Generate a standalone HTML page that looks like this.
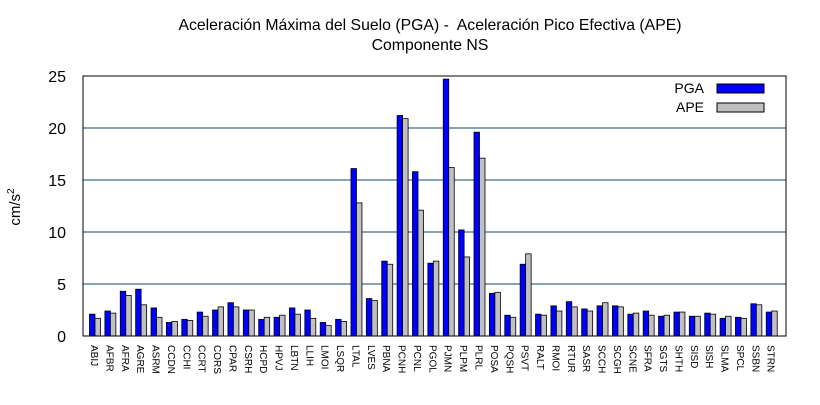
<!DOCTYPE html>
<html><head><meta charset="utf-8"><style>
body{margin:0;background:#fff;font-family:"Liberation Sans",sans-serif}
</style></head><body>
<svg width="820" height="400" xmlns="http://www.w3.org/2000/svg" font-family="Liberation Sans, sans-serif">
<rect width="820" height="400" fill="#fff"/>
<text x="430" y="30" font-size="15.8" text-anchor="middle" xml:space="preserve">Aceleración Máxima del Suelo (PGA) -&#160; Aceleración Pico Efectiva (APE)</text>
<text x="430" y="50" font-size="15.8" text-anchor="middle">Componente NS</text>
<text transform="translate(20,207) rotate(-90)" font-size="15" text-anchor="middle">cm/s<tspan font-size="10" dy="-6">2</tspan></text>
<g id="grid"></g>
<g id="bars"></g>
<g id="xlabels"></g>
<rect x="83" y="76" width="703" height="260" fill="none" stroke="#000" stroke-width="1"/>
<g>
<text x="704" y="93" font-size="14" text-anchor="end">PGA</text>
<rect x="717" y="84" width="47" height="9" fill="#0000ff" stroke="#000"/>
<text x="704" y="112" font-size="14" text-anchor="end">APE</text>
<rect x="717" y="103" width="47" height="9" fill="#c0c0c0" stroke="#000"/>
</g>
</svg>
<script>
const categories=["ABIJ","AFBR","AFRA","AGRE","ASRM","CCDN","CCHI","CCRT","CORS","CPAR","CSRH","HCPD","HPVJ","LBTN","LLIH","LMOI","LSQR","LTAL","LVES","PBNA","PCNH","PCNL","PGOL","PJMN","PLPM","PLRL","POSA","PQSH","PSVT","RALT","RMOI","RTUR","SASR","SCCH","SCGH","SCNE","SFRA","SGTS","SHTH","SISD","SISH","SLMA","SPCL","SSBN","STRN"];
const pga=[2.1,2.4,4.3,4.5,2.7,1.3,1.6,2.3,2.5,3.2,2.5,1.6,1.8,2.7,2.5,1.3,1.6,16.1,3.6,7.2,21.2,15.8,7.0,24.7,10.2,19.6,4.1,2.0,6.9,2.1,2.9,3.3,2.6,2.9,2.9,2.1,2.4,1.9,2.3,1.9,2.2,1.7,1.8,3.1,2.3];
const ape=[1.7,2.2,3.9,3.0,1.8,1.4,1.5,1.9,2.8,2.8,2.5,1.8,2.0,2.1,1.7,1.0,1.4,12.8,3.4,6.9,20.9,12.1,7.2,16.2,7.6,17.1,4.2,1.8,7.9,2.0,2.4,2.8,2.4,3.2,2.8,2.2,2.0,2.0,2.3,1.9,2.1,1.9,1.7,3.0,2.4];
const yTicks=[0,5,10,15,20,25];
const NS="http://www.w3.org/2000/svg";
const y0=336,pxPerUnit=10.4;
const yScale=v=>y0-v*pxPerUnit;
const xCenter=i=>95+i*15.38;
const grid=document.getElementById('grid');
yTicks.forEach(t=>{
  const y=yScale(t);
  if(t>0){const l=document.createElementNS(NS,'line');
  l.setAttribute('x1',83);l.setAttribute('x2',786);l.setAttribute('y1',y);l.setAttribute('y2',y);
  l.setAttribute('stroke','#104868');l.setAttribute('stroke-width','1');
  
  
  grid.appendChild(l);}
  const tx=document.createElementNS(NS,'text');
  tx.setAttribute('x',66);tx.setAttribute('y',y+6);tx.setAttribute('font-size','16');tx.setAttribute('text-anchor','end');
  tx.textContent=t;
  
  
  grid.appendChild(tx);
});
const bars=document.getElementById('bars'),xl=document.getElementById('xlabels');
categories.forEach((c,i)=>{
  const cx=xCenter(i);
  [[pga[i],'#0000ff',cx-5.5,'bar-pga'],[ape[i],'#c0c0c0',cx,'bar-ape']].forEach(([v,col,x,nm])=>{
    const r=document.createElementNS(NS,'rect');
    r.setAttribute('x',x);r.setAttribute('y',yScale(v));r.setAttribute('width',5.5);r.setAttribute('height',v*pxPerUnit);
    r.setAttribute('fill',col);r.setAttribute('stroke','#000');r.setAttribute('stroke-width','0.8');
    
    
    bars.appendChild(r);
  });
  const t=document.createElementNS(NS,'text');
  t.setAttribute('transform','translate('+(cx-4)+',345) rotate(90)');
  t.setAttribute('font-size','10');
  t.textContent=c;
  
  
  xl.appendChild(t);
});
</script>
</body></html>
